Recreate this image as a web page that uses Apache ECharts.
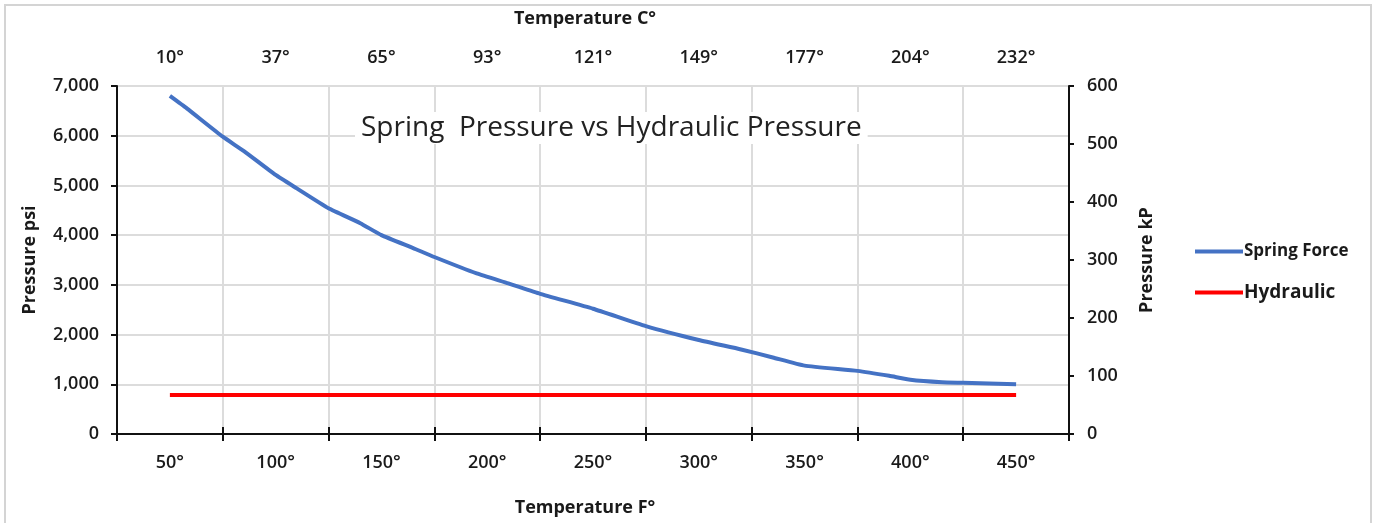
<!DOCTYPE html>
<html>
<head>
<meta charset="utf-8">
<script src="https://cdn.jsdelivr.net/npm/echarts@6/dist/echarts.min.js"></script>
<style>
  html, body { margin: 0; padding: 0; background: #fff; }
  #chart { width: 1376px; height: 523px; }
</style>
</head>
<body>
<div id="chart"></div>
<script>
// Temperature (°F) samples
const tempF = [50, 58, 75, 85, 100, 110, 125, 140, 150, 165, 175, 195, 210, 225, 250, 275, 300, 320, 335, 350, 375, 390, 400, 415, 425, 450];
// Spring force pressure (psi)
const springPsi = [6800, 6550, 5980, 5690, 5210, 4940, 4540, 4240, 4000, 3740, 3560, 3230, 3030, 2820, 2520, 2170, 1890, 1700, 1540, 1375, 1270, 1170, 1090, 1040, 1030, 1000];
// Hydraulic pressure (psi), constant
const hydraulicTemp = [50, 450];
const hydraulicPsi = [785, 785];
// Tick labels
const fLabels = ['50°', '100°', '150°', '200°', '250°', '300°', '350°', '400°', '450°'];
const cLabels = ['10°', '37°', '65°', '93°', '121°', '149°', '177°', '204°', '232°'];
const titleText = 'Spring  Pressure vs Hydraulic Pressure';

const FONT = 'Open Sans';
const chart = echarts.init(document.getElementById('chart'));

const springData = tempF.map((t, i) => [t, springPsi[i]]);
const hydData = hydraulicTemp.map((t, i) => [t, hydraulicPsi[i]]);

const axisLineStyle = { color: '#111', width: 2 };
const labelStyle = { color: '#1a1a1a', fontFamily: FONT, fontWeight: 600, fontSize: 18 };
const nameStyle = { color: '#1a1a1a', fontFamily: FONT, fontWeight: 'bold', fontSize: 18 };

chart.setOption({
  animation: false,
  backgroundColor: '#fff',
  title: {
    text: titleText,
    left: 355,
    top: 112,
    padding: [2, 6],
    backgroundColor: '#fff',
    textStyle: { fontFamily: FONT, fontWeight: 'normal', fontSize: 28, color: '#222' }
  },
  graphic: [{
    type: 'rect',
    shape: { x: 5, y: 5, width: 1366, height: 540 },
    style: { fill: 'none', stroke: '#d4d4d4', lineWidth: 2 },
    silent: true, z: -10
  }],
  legend: {
    orient: 'vertical',
    left: 1190,
    top: 238,
    itemWidth: 48,
    itemHeight: 4,
    itemGap: 23,
    icon: 'rect',
    textStyle: { fontFamily: FONT, fontWeight: 'bold', color: '#1a1a1a', padding: [0, 0, 0, -4] },
    data: [
      { name: 'Spring Force', textStyle: { fontFamily: FONT, fontWeight: 'bold', color: '#1a1a1a', fontSize: 17 } },
      { name: 'Hydraulic', textStyle: { fontFamily: FONT, fontWeight: 'bold', color: '#1a1a1a', fontSize: 19 } }
    ]
  },
  grid: { left: 117, right: 307, top: 86, bottom: 89, containLabel: false },
  xAxis: [
    {
      type: 'category',
      position: 'bottom',
      data: fLabels,
      boundaryGap: true,
      name: 'Temperature F°',
      nameLocation: 'middle',
      nameGap: 65,
      nameTextStyle: Object.assign({ padding: [0, 16, 0, 0] }, nameStyle),
      axisLine: { show: true, lineStyle: axisLineStyle },
      axisTick: { show: true, interval: 0, length: 7, lineStyle: { color: '#111', width: 2 } },
      axisLabel: Object.assign({ interval: 0, margin: 20 }, labelStyle),
      splitLine: { show: true, interval: 0, lineStyle: { color: '#dcdcdc', width: 2 } }
    },
    {
      type: 'category',
      position: 'top',
      data: cLabels,
      boundaryGap: true,
      name: 'Temperature C°',
      nameLocation: 'middle',
      nameGap: 58,
      nameTextStyle: Object.assign({ padding: [0, 16, 0, 0] }, nameStyle),
      axisLine: { show: true, lineStyle: axisLineStyle },
      axisTick: { show: true, interval: 0, length: 7, lineStyle: { color: '#111', width: 2 } },
      axisLabel: Object.assign({ interval: 0, margin: 19 }, labelStyle),
      splitLine: { show: false }
    },
    {
      type: 'value',
      min: 25,
      max: 475,
      show: false
    }
  ],
  yAxis: [
    {
      type: 'value',
      position: 'left',
      min: 0,
      max: 7000,
      interval: 1000,
      name: 'Pressure psi',
      nameLocation: 'middle',
      nameGap: 78,
      nameRotate: 90,
      nameTextStyle: nameStyle,
      axisLine: { show: true, lineStyle: axisLineStyle },
      axisTick: { show: true, length: 6, lineStyle: { color: '#111', width: 2 } },
      axisLabel: Object.assign({ margin: 18, formatter: v => v.toLocaleString('en-US') }, labelStyle),
      splitLine: { show: true, lineStyle: { color: '#dcdcdc', width: 2 } }
    },
    {
      type: 'value',
      position: 'right',
      min: 0,
      max: 600,
      interval: 100,
      name: 'Pressure kP',
      nameLocation: 'middle',
      nameGap: 69,
      nameRotate: 90,
      nameTextStyle: nameStyle,
      axisLine: { show: true, lineStyle: axisLineStyle },
      axisTick: { show: true, length: 5, lineStyle: { color: '#111', width: 2 } },
      axisLabel: Object.assign({ margin: 18 }, labelStyle),
      splitLine: { show: false }
    }
  ],
  series: [
    {
      name: 'Spring Force',
      type: 'line',
      xAxisIndex: 2,
      yAxisIndex: 0,
      data: springData,
      showSymbol: false,
      smooth: 0.15,
      itemStyle: { color: '#4472C4' },
      lineStyle: { color: '#4472C4', width: 4 }
    },
    {
      name: 'Hydraulic',
      type: 'line',
      xAxisIndex: 2,
      yAxisIndex: 0,
      data: hydData,
      showSymbol: false,
      itemStyle: { color: '#ff0000' },
      lineStyle: { color: '#ff0000', width: 4 }
    }
  ]
});
</script>
</body>
</html>
